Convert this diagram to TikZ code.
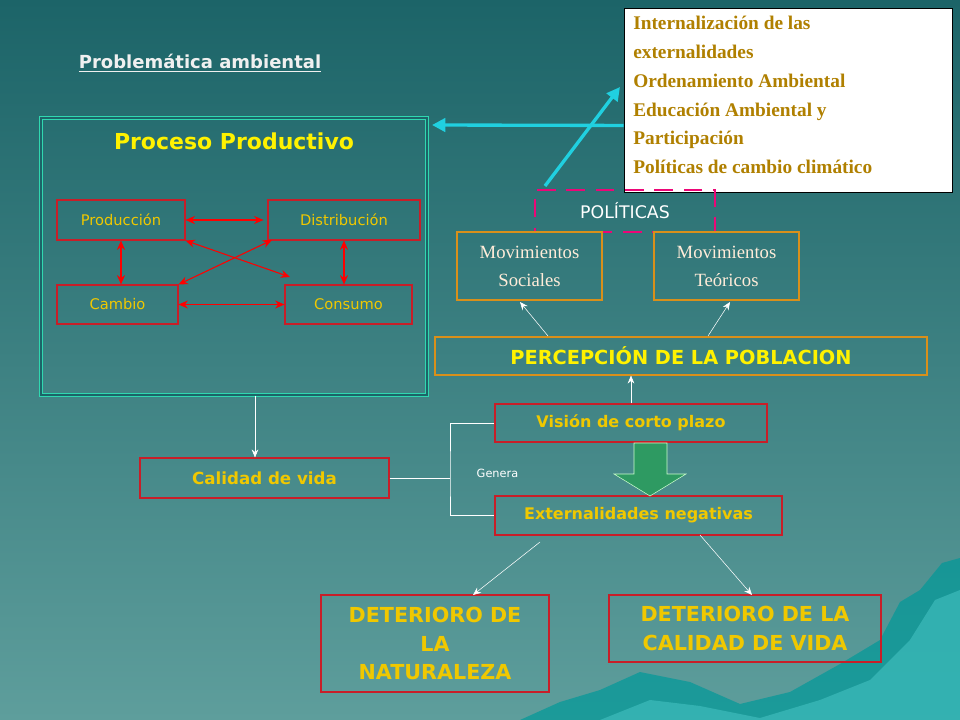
\documentclass[tikz,border=0pt]{standalone}
\usepackage{fontspec}
\setmainfont{Liberation Serif}
\setsansfont{DejaVu Sans}
\usetikzlibrary{arrows.meta}
\definecolor{bgtop}{HTML}{1C6468}
\definecolor{bgbot}{HTML}{5E9E9C}
\definecolor{gold}{HTML}{F0C800}
\definecolor{redb}{HTML}{C81E28}
\definecolor{orb}{HTML}{D9901A}
\definecolor{tgold}{HTML}{B08000}
\definecolor{cyanl}{HTML}{20D0E0}
\definecolor{frame}{HTML}{30D8B0}
\definecolor{garrow}{HTML}{2E9A62}
\tikzset{
  rbox/.style={draw=redb,thick,text=gold,font=\sffamily,inner sep=0pt},
  obox/.style={draw=orb,thick,inner sep=0pt},
  warr/.style={draw=white,thin,-{Stealth[length=6pt,width=5pt]}},
  rarr/.style={draw=red,thick,{Stealth[length=7pt,width=6pt]}-{Stealth[length=7pt,width=6pt]}},
}
\begin{document}
\begin{tikzpicture}[x=0.75pt,y=-0.75pt]
\useasboundingbox (0,0) rectangle (960,720);
\shade[top color=bgtop,bottom color=bgbot] (0,0) rectangle (960,720);
% mountains
\fill[color=teal!80!cyan,opacity=0.7] (520,720)--(560,702)--(600,690)--(640,672)--(690,682)--(740,704)--(790,692)--(840,664)--(880,640)--(900,602)--(920,590)--(942,563)--(960,558)--(960,720)--cycle;
\fill[color=teal!60!cyan!70!white,opacity=0.5] (600,720)--(650,700)--(700,706)--(760,718)--(820,700)--(870,680)--(910,640)--(935,600)--(960,590)--(960,720)--cycle;
% title
\node[font=\sffamily\bfseries\fontsize{13.5}{15}\selectfont,text=white!88!gray] (title) at (200,63) {\underline{Problemática ambiental}};
% outer box
\node[draw=frame,double=bgtop,double distance=1.5pt,thick,minimum width=386*0.75pt,minimum height=277*0.75pt,inner sep=0pt] (pp) at (234,256.5) {};
\node[text=yellow,font=\sffamily\bfseries\fontsize{16.5}{18}\selectfont] (ppt) at (234,141) {Proceso Productivo};
\node[rbox,minimum width=128*0.75pt,minimum height=40*0.75pt,font=\sffamily\fontsize{11}{13}\selectfont] (prod) at (121,220) {Producción};
\node[rbox,minimum width=152*0.75pt,minimum height=40*0.75pt,font=\sffamily\fontsize{11}{13}\selectfont] (dist) at (344,220) {Distribución};
\node[rbox,minimum width=121*0.75pt,minimum height=39*0.75pt,font=\sffamily\fontsize{11}{13}\selectfont] (camb) at (117.5,304.5) {Cambio};
\node[rbox,minimum width=127*0.75pt,minimum height=39*0.75pt,font=\sffamily\fontsize{11}{13}\selectfont] (cons) at (348.5,304.5) {Consumo};
\draw[rarr] (prod.east) -- ([xshift=-3pt]dist.west);
\draw[rarr] (camb.east) -- (cons.west);
\draw[rarr] (prod.south) -- (prod.south|-camb.north);
\draw[rarr] (dist.south) -- (dist.south|-cons.north);
\draw[rarr] (prod.south east) -- (290,277);
\draw[rarr] (272,240) -- (camb.north east);
% top right box
\node[draw=black,fill=white,minimum width=328*0.75pt,minimum height=184*0.75pt,inner sep=0pt] (pol) at (788,100) {};
\node[anchor=north west,align=left,text=tgold,font=\bfseries\fontsize{14.5}{21.6}\selectfont,inner sep=0pt] (polt) at (633,16) {Internalización de las\\externalidades\\Ordenamiento Ambiental\\Educación Ambiental y\\Participación\\Políticas de cambio climático};
\node[draw=magenta!80!red,line width=2.2pt,dash pattern=on 14pt off 8pt,minimum width=180*0.75pt,minimum height=42*0.75pt,text=white,font=\sffamily\fontsize{13}{15}\selectfont] (polit) at (625,211) {POLÍTICAS};
\coordinate (cs) at (545,186);
\draw[cyanl,line width=2.5pt,-{Triangle[length=10pt,width=10pt]}] (cs) -- (620,87);
\draw[cyanl,line width=2.5pt,-{Triangle[length=10pt,width=10pt]}] (pol.west|-pp.north) ++(0,8) coordinate (cc) -- (432,125);
% movimientos
\node[obox,minimum width=145*0.75pt,minimum height=68*0.75pt,align=center,text=white!85!orange,font=\fontsize{14}{21}\selectfont] (ms) at (529.5,266) {Movimientos\\Sociales};
\node[obox,minimum width=145*0.75pt,minimum height=68*0.75pt,align=center,text=white!85!orange,font=\fontsize{14}{21}\selectfont] (mt) at (726.5,266) {Movimientos\\Teóricos};
\node[obox,minimum width=492*0.75pt,minimum height=38*0.75pt,text=yellow,font=\sffamily\bfseries\fontsize{14.5}{16}\selectfont] (per) at (681,356) {PERCEPCIÓN DE LA POBLACION};
\draw[warr] (548,336) -- (520,302);
\draw[warr] (708,336) -- (730,302);
% vision etc
\node[rbox,minimum width=272*0.75pt,minimum height=38*0.75pt,font=\sffamily\bfseries\fontsize{12}{13}\selectfont] (vis) at (631,423) {Visión de corto plazo};
\node[rbox,minimum width=287*0.75pt,minimum height=39*0.75pt,font=\sffamily\bfseries\fontsize{12}{13}\selectfont] (ext) at (638.5,515.5) {Externalidades negativas};
\node[rbox,minimum width=249*0.75pt,minimum height=40*0.75pt,font=\sffamily\bfseries\fontsize{12.5}{14}\selectfont] (cal) at (264.5,478) {Calidad de vida};
\draw[warr] (vis.north) -- (per.south-|vis.north);
\draw[warr] (pp.south-|255,0) -- (cal.north-|255,0);
\draw[white,thin] (cal.east) -- (450,478) (vis.west) -| (450,478) |- (ext.west);
\node[text=white,font=\sffamily\fontsize{8.5}{10}\selectfont,anchor=west] (gen) at (472,473) {Genera};
\filldraw[draw=white!80!green,fill=garrow] (634,443)--(667,443)--(667,474)--(686,474)--(650,496)--(614,474)--(634,474)--cycle;
% deterioro
\node[rbox,minimum width=228*0.75pt,minimum height=97*0.75pt,align=center,font=\sffamily\bfseries\fontsize{15.5}{21.5}\selectfont] (dn) at (435,643.5) {DETERIORO DE\\LA\\NATURALEZA};
\node[rbox,minimum width=272*0.75pt,minimum height=67*0.75pt,align=center,font=\sffamily\bfseries\fontsize{15.5}{21.5}\selectfont] (dc) at (745,628.5) {DETERIORO DE LA\\CALIDAD DE VIDA};
\draw[warr] (540,542) -- (473,595);
\draw[warr] (700,535) -- (752,595);
\end{tikzpicture}
\end{document}
